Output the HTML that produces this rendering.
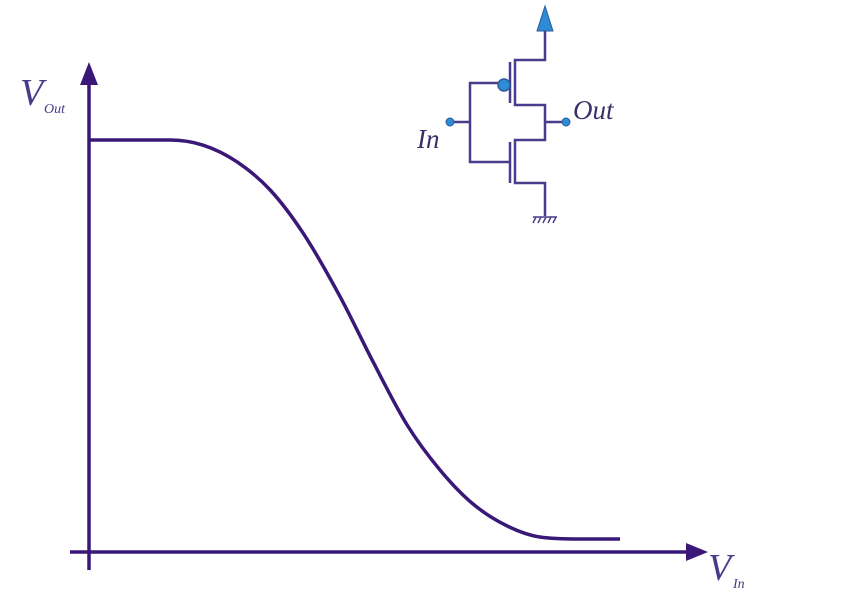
<!DOCTYPE html>
<html><head><meta charset="utf-8"><style>
html,body{margin:0;padding:0;background:#fff;}
svg{display:block;}
text{font-family:"Liberation Serif",serif;font-style:italic;}
</style></head><body>
<svg width="841" height="595" viewBox="0 0 841 595">
  <g id="axes">
    <line x1="89" y1="78" x2="89" y2="570" stroke="#3a1878" stroke-width="3.5"/>
    <polygon points="89,62 80,85 98,85" fill="#3a1878"/>
    <line x1="70" y1="552" x2="692" y2="552" stroke="#3a1878" stroke-width="3.5"/>
    <polygon points="708,552 686,543 686,561" fill="#3a1878"/>
    <text x="20" y="105" font-size="38" fill="#4a3a8a">V</text>
    <text x="44" y="113" font-size="14" fill="#4a3a8a">Out</text>
    <text x="708" y="580" font-size="38" fill="#4a3a8a">V</text>
    <text x="733" y="588" font-size="14" fill="#4a3a8a">In</text>
  </g>
  <path id="curve" fill="none" stroke="#3a1878" stroke-width="3.5"/>
  <g id="circuit" stroke="#4a3c8c" stroke-width="2.5" fill="none">
    <polygon points="545,6 537,31 553,31" fill="#2e8bd6" stroke="#2a5a9a" stroke-width="1"/>
    <polyline points="545,31 545,60 515,60 515,105 545,105 545,140 515,140 515,183 545,183 545,216"/>
    <line x1="510" y1="62" x2="510" y2="103"/>
    <line x1="510" y1="142" x2="510" y2="183"/>
    <polyline points="498,83 470,83 470,162 510,162"/>
    <line x1="452" y1="122" x2="470" y2="122"/>
    <line x1="545" y1="122" x2="563" y2="122"/>
    <circle cx="504" cy="85" r="6" fill="#2e8bd6" stroke="#2a5a9a" stroke-width="1.5"/>
    <circle cx="450" cy="122" r="4" fill="#2e8bd6" stroke="#2a5a9a" stroke-width="1"/>
    <circle cx="566" cy="122" r="4" fill="#2e8bd6" stroke="#2a5a9a" stroke-width="1"/>
    <g stroke-width="1.5">
      <line x1="533" y1="217" x2="557" y2="217"/>
      <line x1="536" y1="217" x2="533" y2="223"/>
      <line x1="541" y1="217" x2="538" y2="223"/>
      <line x1="546" y1="217" x2="543" y2="223"/>
      <line x1="551" y1="217" x2="548" y2="223"/>
      <line x1="556" y1="217" x2="553" y2="223"/>
    </g>
  </g>
  <text x="417" y="148" font-size="27" fill="#3a2f6a" stroke="none">In</text>
  <text x="573" y="119" font-size="27" fill="#3a2f6a" stroke="none">Out</text>
</svg>
<script>
const vinValues = [0, 0.153, 0.215, 0.279, 0.341, 0.403, 0.473, 0.535, 0.599, 0.661, 0.723, 0.787, 0.849, 0.925, 1];
const voutValues = [1, 1, 0.987, 0.945, 0.875, 0.767, 0.607, 0.444, 0.286, 0.173, 0.088, 0.033, 0.005, 0, 0];
const xScale = v => 89 + v * 531;
const yScale = v => 539 - v * 399;
const X = vinValues.map(xScale), Y = voutValues.map(yScale);
const n = X.length;
// monotone cubic (Fritsch-Carlson)
const dlt = [], m = [];
for (let i = 0; i < n - 1; i++) dlt.push((Y[i + 1] - Y[i]) / (X[i + 1] - X[i]));
m[0] = dlt[0]; m[n - 1] = dlt[n - 2];
for (let i = 1; i < n - 1; i++) m[i] = (dlt[i - 1] * dlt[i] <= 0) ? 0 : (dlt[i - 1] + dlt[i]) / 2;
for (let i = 0; i < n - 1; i++) {
  if (dlt[i] === 0) { m[i] = 0; m[i + 1] = 0; continue; }
  const a = m[i] / dlt[i], b = m[i + 1] / dlt[i], s = a * a + b * b;
  if (s > 9) { const t = 3 / Math.sqrt(s); m[i] = t * a * dlt[i]; m[i + 1] = t * b * dlt[i]; }
}
let d = `M${X[0]},${Y[0]}`;
for (let i = 0; i < n - 1; i++) {
  const h = (X[i + 1] - X[i]) / 3;
  d += ` C${X[i] + h},${Y[i] + m[i] * h} ${X[i + 1] - h},${Y[i + 1] - m[i + 1] * h} ${X[i + 1]},${Y[i + 1]}`;
}
document.getElementById('curve').setAttribute('d', d);
</script>
</body></html>
